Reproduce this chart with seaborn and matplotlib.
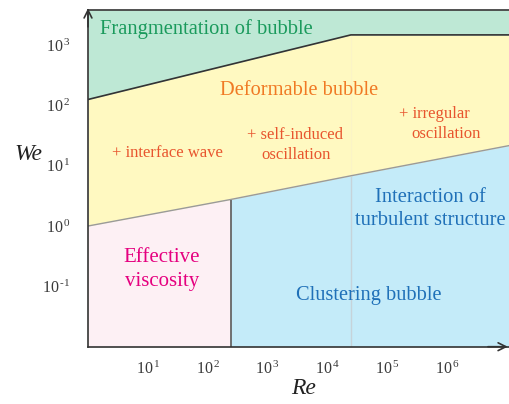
import matplotlib
matplotlib.use("Agg")
import matplotlib.pyplot as plt
import seaborn as sns
import pandas as pd

# Regime boundaries in the Re-We plane
re_upper = [1.0, 24500.0, 1.07e7]
we_upper = [125.0, 1470.0, 1470.0]

re_lower = [1.0, 240.0, 24500.0, 1.07e7]
we_lower = [1.0, 2.75, 6.8, 21.5]

re_viscous_limit = 240.0
re_turbulent_limit = 24500.0

x_ticks = [1e1, 1e2, 1e3, 1e4, 1e5, 1e6]
x_tick_labels = [r"$10^{\,1}$", r"$10^{\,2}$", r"$10^{\,3}$",
                 r"$10^{\,4}$", r"$10^{\,5}$", r"$10^{\,6}$"]
y_ticks = [1e-1, 1e0, 1e1, 1e2, 1e3]
y_tick_labels = [r"$10^{\,\text{-}1}$", r"$10^{\,0}$", r"$10^{\,1}$",
                 r"$10^{\,2}$", r"$10^{\,3}$"]

xmin, xmax = 1.0, 1.07e7
ymin, ymax = 1e-2, 10 ** 3.58

sns.set_theme(style="white")
plt.rcParams["font.family"] = ["Liberation Serif", "DejaVu Serif"]
plt.rcParams["mathtext.fontset"] = "custom"
plt.rcParams["mathtext.rm"] = "Liberation Serif"
plt.rcParams["mathtext.it"] = "Liberation Serif:italic"

fig = plt.figure(figsize=(5.1, 4.04), dpi=100)
ax = fig.add_axes([88 / 510, 57.3 / 404, 421 / 510, 336.7 / 404])
ax.set_xscale("log")
ax.set_yscale("log")
ax.set_xlim(xmin, xmax)
ax.set_ylim(ymin, ymax)

green = "#bee8d5"
yellow = "#fff9c1"
pink = "#fdf0f4"
blue = "#c4ebf9"

upper = pd.DataFrame({"Re": re_upper, "We": we_upper})
lower = pd.DataFrame({"Re": re_lower, "We": we_lower})

# Fragmentation region above the upper boundary
ax.fill_between(upper["Re"], upper["We"], ymax, color=green, lw=0, zorder=1)
# Deformable region between the two boundaries
ax.fill_between(upper["Re"], upper["We"], ymin, color=yellow, lw=0, zorder=0.5)
# Viscous and clustering regions below the lower boundary
vis = lower[lower["Re"] <= re_viscous_limit]
clu = lower[lower["Re"] >= re_viscous_limit]
ax.fill_between(vis["Re"], vis["We"], ymin, color=pink, lw=0, zorder=1)
ax.fill_between(clu["Re"], clu["We"], ymin, color=blue, lw=0, zorder=1)

sns.lineplot(data=upper, x="Re", y="We", ax=ax, color="#333333", lw=1.2,
             zorder=3, legend=False)
sns.lineplot(data=lower, x="Re", y="We", ax=ax, color="#9a9a9a", lw=1.0,
             zorder=3, legend=False)
ax.vlines(re_viscous_limit, ymin, we_lower[1], color="#666666", lw=1.3, zorder=3)
ax.vlines(re_turbulent_limit, ymin, we_lower[2], color="#c6d3da", lw=1.0, zorder=2)
ax.vlines(re_turbulent_limit, we_lower[2], we_upper[1], color="#fbf4c6", lw=0.8, zorder=2)

# Axes frame
ax.spines["right"].set_visible(False)
for side in ("left", "bottom", "top"):
    ax.spines[side].set_color("#333333")
    ax.spines[side].set_linewidth(1.2)
    ax.spines[side].set_zorder(4)
ax.annotate("", xy=(0, 1.005), xytext=(0, 0.95), xycoords="axes fraction",
            arrowprops=dict(arrowstyle="->", color="#333333", lw=1.2,
                            shrinkA=0, shrinkB=0, mutation_scale=14))
ax.annotate("", xy=(0.997, 0), xytext=(0.95, 0), xycoords="axes fraction",
            arrowprops=dict(arrowstyle="->", color="#333333", lw=1.2,
                            shrinkA=0, shrinkB=0, mutation_scale=14))

ax.set_xticks(x_ticks)
ax.set_xticklabels(x_tick_labels)
ax.set_yticks(y_ticks)
ax.set_yticklabels(y_tick_labels)
ax.minorticks_off()
ax.tick_params(axis="both", direction="inout", length=9.5, width=1.1,
               color="#333333", labelcolor="#3a3a3a", labelsize=11.5)
ax.tick_params(axis="x", pad=5)
ax.tick_params(axis="y", pad=8)
ax.set_xlabel("")
ax.set_ylabel("")

fig.text(28 / 510, 1 - 155 / 404, "We", fontsize=17, style="italic",
         color="#222222", ha="center", va="center")
fig.text(304 / 510, 1 - 389 / 404, "Re", fontsize=17, style="italic",
         color="#222222", ha="center", va="center")

def lbl(lre, lwe, s, color, size, ha="center", linespacing=1.1):
    ax.text(10 ** lre, 10 ** lwe, s, color=color, fontsize=size, ha=ha,
            va="center", linespacing=linespacing, zorder=5)

lbl(0.2, 3.26, "Frangmentation of bubble", "#1a9a5c", 14.8, ha="left")
lbl(3.53, 2.25, "Deformable bubble", "#f07a24", 14.7)
lbl(1.33, 1.21, "+ interface wave", "#e8552e", 12)
lbl(2.66, 1.51, "+ self-induced", "#e8552e", 12, ha="left")
lbl(2.90, 1.17, "oscillation", "#e8552e", 12, ha="left")
lbl(5.195, 1.855, "+ irregular", "#e8552e", 12, ha="left")
lbl(5.395, 1.52, "oscillation", "#e8552e", 12, ha="left")
lbl(5.72, 0.285, "Interaction of\nturbulent structure", "#1f70b8", 14.8, linespacing=1.3)
lbl(4.68, -1.15, "Clustering bubble", "#1f70b8", 14.7)
lbl(1.23, -0.728, "Effective\nviscosity", "#e5007f", 15, linespacing=1.35)

fig.savefig("out.png", dpi=100, facecolor="white")
